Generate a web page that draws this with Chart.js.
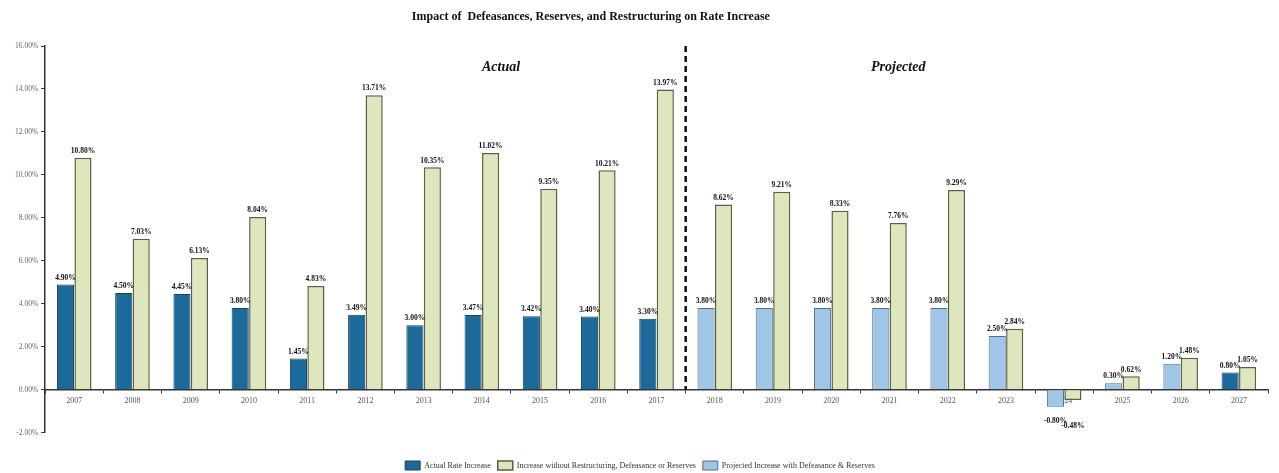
<!DOCTYPE html>
<html>
<head>
<meta charset="utf-8">
<script src="https://cdn.jsdelivr.net/npm/chart.js@4/dist/chart.umd.min.js"></script>
<style>
  html, body { margin: 0; padding: 0; background: #ffffff; }
  #wrap { width: 1279px; height: 473px; position: relative; }
</style>
</head>
<body>
<div id="wrap"><canvas id="rateChart" width="1279" height="473"></canvas></div>
<script>
// Impact of Defeasances, Reserves, and Restructuring on Rate Increase

const years = ['2007', '2008', '2009', '2010', '2011', '2012', '2013', '2014', '2015', '2016', '2017',
    '2018', '2019', '2020', '2021', '2022', '2023', '2024', '2025', '2026', '2027'];

const actualRate = [4.90, 4.50, 4.45, 3.80, 1.45, 3.49, 3.00, 3.47, 3.42, 3.40, 3.30,
    null, null, null, null, null, null, null, null, null, 0.80];

const withoutRestructuring = [10.80, 7.03, 6.13, 8.04, 4.83, 13.71, 10.35, 11.02, 9.35, 10.21, 13.97,
    8.62, 9.21, 8.33, 7.76, 9.29, 2.84, -0.48, 0.62, 1.48, 1.05];

const projectedRate = [null, null, null, null, null, null, null, null, null, null, null,
    3.80, 3.80, 3.80, 3.80, 3.80, 2.50, -0.80, 0.30, 1.20, null];

const yTicks = [-2, 0, 2, 4, 6, 8, 10, 12, 14, 16];

const serif = '"Liberation Serif", "DejaVu Serif", serif';

const annotations = {
    id: 'annotations',
    afterDatasetsDraw(chart) {
        const ctx = chart.ctx;
        const x = chart.scales.x;
        const y = chart.scales.y;
        const area = chart.chartArea;

        ctx.save();

        // title
        ctx.fillStyle = '#111';
        ctx.font = 'bold 12px ' + serif;
        ctx.textAlign = 'center';
        ctx.textBaseline = 'middle';
        ctx.fillText('Impact of  Defeasances, Reserves, and Restructuring on Rate Increase', chart.width * 0.462, 17);

        // dashed divider between actual and projected
        const divX = (x.getPixelForValue(10) + x.getPixelForValue(11)) / 2;
        ctx.strokeStyle = '#111';
        ctx.lineWidth = 2.5;
        ctx.setLineDash([6, 4]);
        ctx.beginPath();
        ctx.moveTo(divX, area.top);
        ctx.lineTo(divX, y.getPixelForValue(0));
        ctx.stroke();
        ctx.setLineDash([]);

        // section headings
        ctx.font = 'bold italic 14px ' + serif;
        ctx.fillText('Actual', x.getPixelForValue(7.33), y.getPixelForValue(15));
        ctx.fillText('Projected', x.getPixelForValue(14.15), y.getPixelForValue(15));

        // value labels
        ctx.font = 'bold 7.5px ' + serif;
        chart.data.datasets.forEach((ds, i) => {
            const meta = chart.getDatasetMeta(i);
            meta.data.forEach((bar, j) => {
                const v = ds.data[j];
                if (v === null || v === undefined) return;
                const txt = v.toFixed(2) + '%';
                if (v >= 0) {
                    ctx.textBaseline = 'bottom';
                    ctx.fillText(txt, bar.x, bar.y - 3);
                } else {
                    ctx.textBaseline = 'top';
                    ctx.fillText(txt, bar.x, bar.y + (i === 1 ? 22 : 10));
                }
            });
        });

        ctx.restore();
    }
};

new Chart(document.getElementById('rateChart'), {
    type: 'bar',
    data: {
        labels: years,
        datasets: [
            {
                label: 'Actual Rate Increase',
                data: actualRate,
                stack: 'rate',
                backgroundColor: '#1b6a9a',
                borderColor: '#16415f',
                borderWidth: 1
            },
            {
                label: 'Increase without Restructuring, Defeasance or Reserves',
                data: withoutRestructuring,
                stack: 'without',
                backgroundColor: '#dde6bd',
                borderColor: '#5e5e40',
                borderWidth: 1.5
            },
            {
                label: 'Projected Increase with Defeasance & Reserves',
                data: projectedRate,
                stack: 'rate',
                backgroundColor: '#9fc6e6',
                borderColor: '#4f6f8f',
                borderWidth: 1
            }
        ]
    },
    options: {
        responsive: false,
        animation: false,
        layout: { padding: { top: 46, left: 12, right: 11, bottom: -7 } },
        datasets: {
            bar: { categoryPercentage: 0.6, barPercentage: 0.98 }
        },
        plugins: {
            title: { display: false },
            tooltip: { enabled: false },
            legend: {
                position: 'bottom',
                title: {
                    display: true,
                    text: '',
                    font: { size: 2 },
                    padding: { top: 0, bottom: 19 }
                },
                labels: {
                    boxWidth: 15,
                    boxHeight: 9,
                    padding: 7,
                    color: '#333',
                    font: { family: serif, size: 8 }
                }
            }
        },
        scales: {
            x: {
                position: { y: 0 },
                grid: {
                    display: true,
                    drawOnChartArea: false,
                    drawTicks: true,
                    tickLength: 3,
                    color: '#333',
                    offset: true
                },
                border: { display: true, color: '#333', width: 1.5 },
                ticks: { color: '#555', padding: 3, font: { family: serif, size: 8 } }
            },
            y: {
                stacked: true,
                min: -2,
                max: 16,
                afterBuildTicks: (axis) => { axis.ticks = yTicks.map(v => ({ value: v })); },
                grid: {
                    display: true,
                    drawOnChartArea: false,
                    drawTicks: true,
                    tickLength: 4,
                    color: '#333'
                },
                border: { display: true, color: '#333', width: 1.5 },
                ticks: {
                    color: '#666',
                    padding: 3,
                    font: { family: serif, size: 7.5 },
                    callback: (v) => v.toFixed(2) + '%'
                }
            }
        }
    },
    plugins: [annotations]
});
</script>
</body>
</html>
